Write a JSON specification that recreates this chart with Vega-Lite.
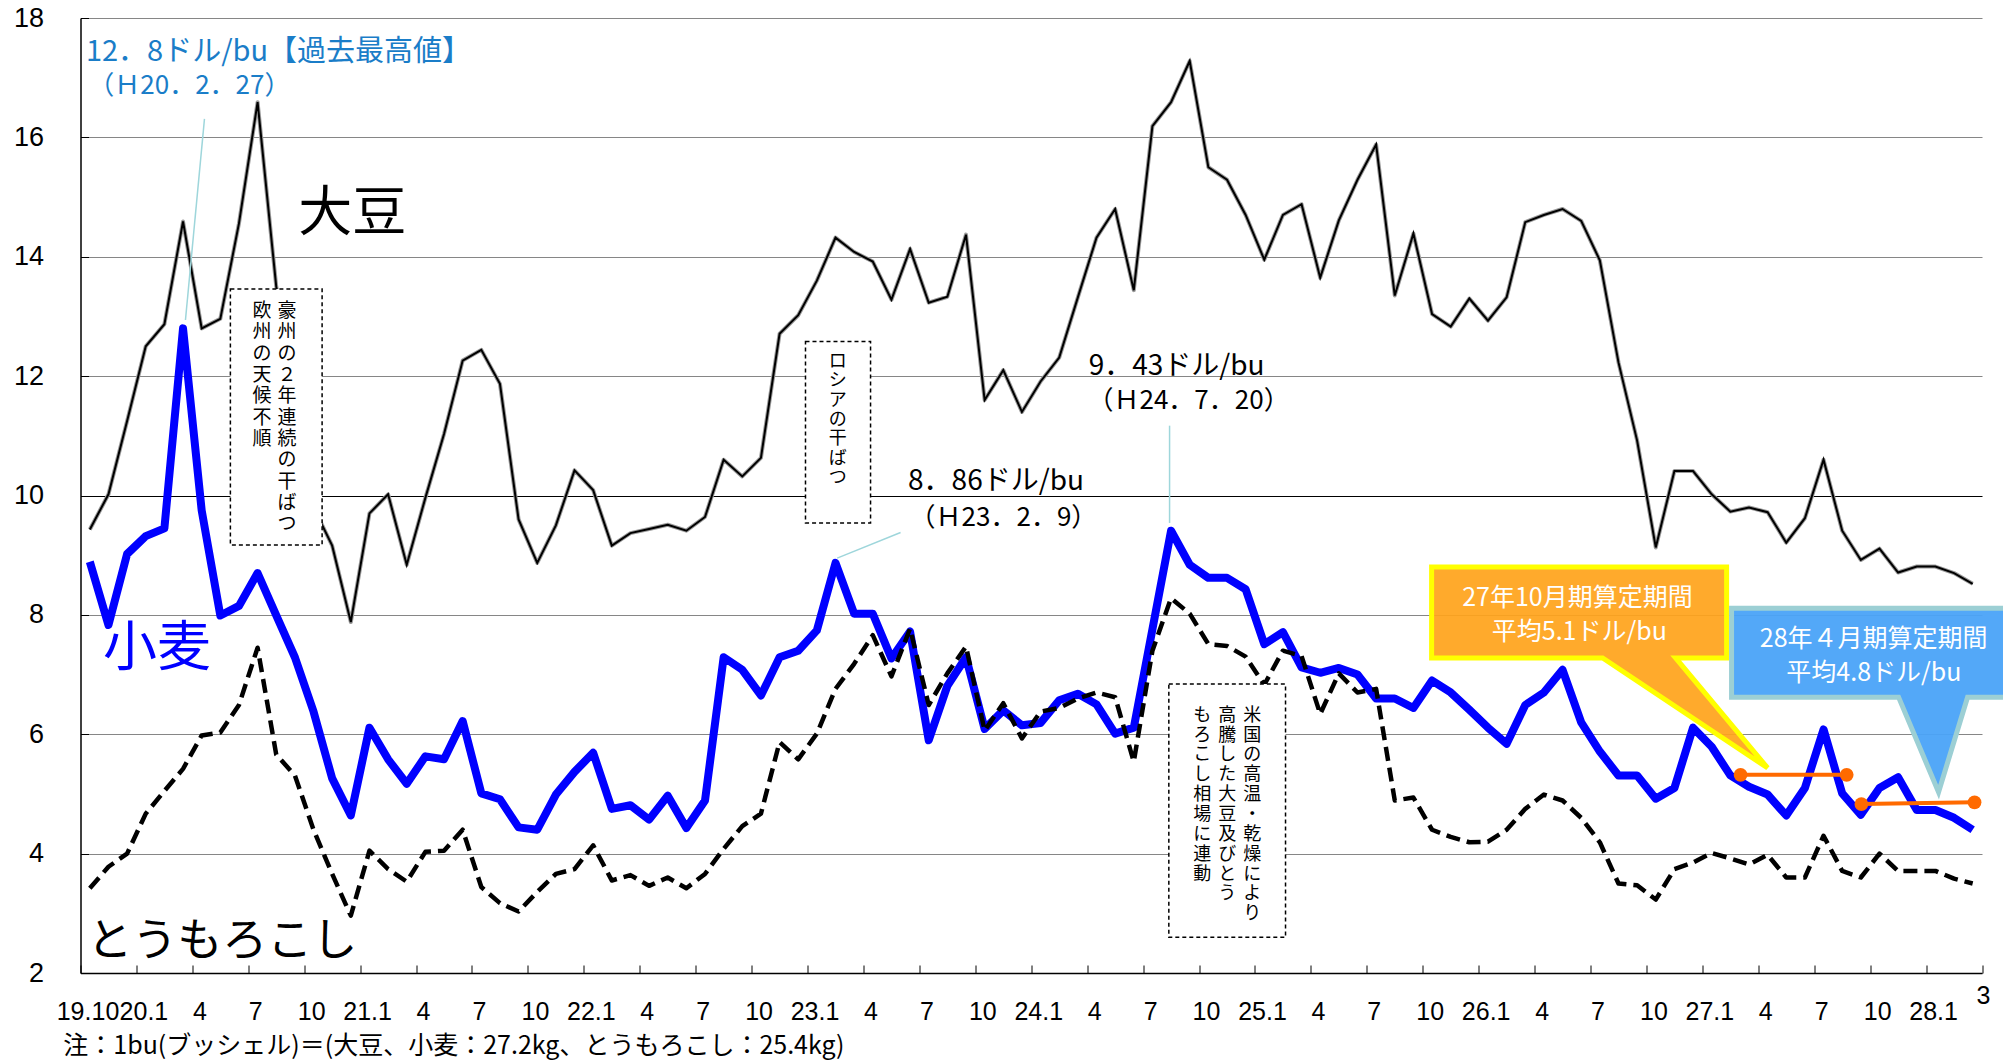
{
  "$schema": "https://vega.github.io/schema/vega-lite/v6.json",
  "width": 1901.5,
  "height": 955,
  "autosize": {"type": "none"},
  "padding": {"left": 80.5, "top": 18, "right": 21, "bottom": 87},
  "background": "white",
  "config": {"view": {"stroke": null}, "font": "Noto Sans CJK JP"},
  "datasets": {
    "prices": [
      {"m":0,"soy":9.43,"wheat":8.89,"corn":3.42},{"m":1,"soy":10.02,"wheat":7.83,"corn":3.78},{"m":2,"soy":11.25,"wheat":9.02,"corn":4.0},
      {"m":3,"soy":12.5,"wheat":9.32,"corn":4.67},{"m":4,"soy":12.87,"wheat":9.45,"corn":5.05},{"m":5,"soy":14.59,"wheat":12.8,"corn":5.42},
      {"m":6,"soy":12.8,"wheat":9.75,"corn":5.98},{"m":7,"soy":12.96,"wheat":7.99,"corn":6.03},{"m":8,"soy":14.56,"wheat":8.15,"corn":6.49},
      {"m":9,"soy":16.59,"wheat":8.7,"corn":7.45},{"m":10,"soy":13.5,"wheat":7.99,"corn":5.66},{"m":11,"soy":12.0,"wheat":7.29,"corn":5.31},
      {"m":12,"soy":9.8,"wheat":6.38,"corn":4.4},{"m":13,"soy":9.16,"wheat":5.26,"corn":3.66},{"m":14,"soy":7.88,"wheat":4.64,"corn":2.96},
      {"m":15,"soy":9.7,"wheat":6.11,"corn":4.05},{"m":16,"soy":10.02,"wheat":5.58,"corn":3.74},{"m":17,"soy":8.84,"wheat":5.17,"corn":3.53},
      {"m":18,"soy":9.96,"wheat":5.63,"corn":4.03},{"m":19,"soy":11.03,"wheat":5.58,"corn":4.05},{"m":20,"soy":12.26,"wheat":6.22,"corn":4.4},
      {"m":21,"soy":12.44,"wheat":5.01,"corn":3.44},{"m":22,"soy":11.87,"wheat":4.91,"corn":3.17},{"m":23,"soy":9.6,"wheat":4.44,"corn":3.03},
      {"m":24,"soy":8.87,"wheat":4.4,"corn":3.36},{"m":25,"soy":9.5,"wheat":4.99,"corn":3.66},{"m":26,"soy":10.42,"wheat":5.37,"corn":3.74},
      {"m":27,"soy":10.09,"wheat":5.69,"corn":4.14},{"m":28,"soy":9.16,"wheat":4.75,"corn":3.55},{"m":29,"soy":9.37,"wheat":4.81,"corn":3.64},
      {"m":30,"soy":9.44,"wheat":4.57,"corn":3.46},{"m":31,"soy":9.51,"wheat":4.97,"corn":3.6},{"m":32,"soy":9.41,"wheat":4.43,"corn":3.42},
      {"m":33,"soy":9.64,"wheat":4.89,"corn":3.66},{"m":34,"soy":10.6,"wheat":7.29,"corn":4.08},{"m":35,"soy":10.32,"wheat":7.08,"corn":4.46},
      {"m":36,"soy":10.63,"wheat":6.65,"corn":4.67},{"m":37,"soy":12.71,"wheat":7.29,"corn":5.87},{"m":38,"soy":13.02,"wheat":7.4,"corn":5.58},
      {"m":39,"soy":13.6,"wheat":7.74,"corn":6.01},{"m":40,"soy":14.32,"wheat":8.87,"corn":6.76},{"m":41,"soy":14.08,"wheat":8.02,"corn":7.18},
      {"m":42,"soy":13.92,"wheat":8.02,"corn":7.66},{"m":43,"soy":13.28,"wheat":7.27,"corn":6.97},{"m":44,"soy":14.13,"wheat":7.72,"corn":7.77},
      {"m":45,"soy":13.23,"wheat":5.9,"corn":6.49},{"m":46,"soy":13.33,"wheat":6.81,"corn":7.02},{"m":47,"soy":14.37,"wheat":7.29,"corn":7.47},
      {"m":48,"soy":11.6,"wheat":6.09,"corn":6.06},{"m":49,"soy":12.1,"wheat":6.4,"corn":6.52},{"m":50,"soy":11.4,"wheat":6.15,"corn":5.93},
      {"m":51,"soy":11.91,"wheat":6.19,"corn":6.38},{"m":52,"soy":12.31,"wheat":6.57,"corn":6.44},{"m":53,"soy":13.32,"wheat":6.68,"corn":6.6},
      {"m":54,"soy":14.32,"wheat":6.5,"corn":6.7},{"m":55,"soy":14.8,"wheat":6.01,"corn":6.62},{"m":56,"soy":13.44,"wheat":6.11,"corn":5.54},
      {"m":57,"soy":16.19,"wheat":7.76,"corn":7.4},{"m":58,"soy":16.59,"wheat":9.41,"corn":8.28},{"m":59,"soy":17.28,"wheat":8.84,"corn":8.02},
      {"m":60,"soy":15.5,"wheat":8.62,"corn":7.51},{"m":61,"soy":15.29,"wheat":8.62,"corn":7.48},{"m":62,"soy":14.7,"wheat":8.43,"corn":7.3},
      {"m":63,"soy":13.95,"wheat":7.51,"corn":6.83},{"m":64,"soy":14.7,"wheat":7.71,"corn":7.4},{"m":65,"soy":14.88,"wheat":7.12,"corn":7.31},
      {"m":66,"soy":13.65,"wheat":7.03,"corn":6.34},{"m":67,"soy":14.61,"wheat":7.11,"corn":7.02},{"m":68,"soy":15.29,"wheat":7.0,"corn":6.7},
      {"m":69,"soy":15.88,"wheat":6.6,"corn":6.76},{"m":70,"soy":13.35,"wheat":6.6,"corn":4.89},{"m":71,"soy":14.39,"wheat":6.44,"corn":4.94},
      {"m":72,"soy":13.04,"wheat":6.9,"corn":4.4},{"m":73,"soy":12.83,"wheat":6.7,"corn":4.28},{"m":74,"soy":13.3,"wheat":6.41,"corn":4.19},
      {"m":75,"soy":12.93,"wheat":6.11,"corn":4.2},{"m":76,"soy":13.32,"wheat":5.84,"corn":4.4},{"m":77,"soy":14.58,"wheat":6.49,"corn":4.75},
      {"m":78,"soy":14.7,"wheat":6.7,"corn":4.99},{"m":79,"soy":14.8,"wheat":7.08,"corn":4.89},{"m":80,"soy":14.6,"wheat":6.2,"corn":4.6},
      {"m":81,"soy":13.94,"wheat":5.71,"corn":4.19},{"m":82,"soy":12.23,"wheat":5.31,"corn":3.5},{"m":83,"soy":10.92,"wheat":5.31,"corn":3.47},
      {"m":84,"soy":9.13,"wheat":4.92,"corn":3.23},{"m":85,"soy":10.41,"wheat":5.1,"corn":3.74},{"m":86,"soy":10.41,"wheat":6.11,"corn":3.85},
      {"m":87,"soy":10.02,"wheat":5.79,"corn":4.01},{"m":88,"soy":9.73,"wheat":5.31,"corn":3.92},{"m":89,"soy":9.8,"wheat":5.12,"corn":3.82},
      {"m":90,"soy":9.72,"wheat":4.99,"corn":3.98},{"m":91,"soy":9.21,"wheat":4.64,"corn":3.6},{"m":92,"soy":9.62,"wheat":5.1,"corn":3.6},
      {"m":93,"soy":10.6,"wheat":6.08,"corn":4.3},{"m":94,"soy":9.41,"wheat":5.01,"corn":3.71},{"m":95,"soy":8.92,"wheat":4.65,"corn":3.6},
      {"m":96,"soy":9.11,"wheat":5.1,"corn":4.0},{"m":97,"soy":8.71,"wheat":5.28,"corn":3.71},{"m":98,"soy":8.81,"wheat":4.73,"corn":3.71},
      {"m":99,"soy":8.81,"wheat":4.73,"corn":3.71},{"m":100,"soy":8.7,"wheat":4.6,"corn":3.58},{"m":101,"soy":8.52,"wheat":4.4,"corn":3.5}
    ],
    "avg": [
      {"period":"27年10月期","m":88.55,"v":5.32},{"period":"27年10月期","m":94.24,"v":5.32},
      {"period":"28年4月期","m":95.03,"v":4.83},{"period":"28年4月期","m":101.1,"v":4.86}
    ]
  },
  "layer": [
    {
      "data": {"values": [{"c": "27年10月期"}]},
      "mark": {"type": "point", "shape": "M -336 -201 L -41 -201 L -41 -110 L -92 -110 L 0 0 L -165 -110 L -336 -110 Z", "size": 4, "filled": true, "fill": "#FFA41C", "fillOpacity": 0.93, "stroke": "#FFFF00", "strokeWidth": 5, "strokeOpacity": 1, "opacity": 1},
      "encoding": {
        "x": {"datum": 90.0, "type": "quantitative", "title": null, "scale": {"domain": [-0.5, 101.5], "nice": false, "zero": false}},
        "y": {"datum": 5.435, "type": "quantitative", "title": null, "scale": {"domain": [2, 18], "nice": false, "zero": false}}
      }
    },
    {
      "data": {"values": [{"c": "28年4月期"}]},
      "mark": {"type": "point", "shape": "M -207 -184 L 78 -184 L 78 -95 L 29 -95 L 0 0 L -40 -95 L -207 -95 Z", "size": 4, "filled": true, "fill": "#4AA3F8", "fillOpacity": 0.95, "stroke": "#9CCFD4", "strokeWidth": 5, "strokeOpacity": 1, "opacity": 1},
      "encoding": {
        "x": {"datum": 99.17, "type": "quantitative", "title": null},
        "y": {"datum": 5.03, "type": "quantitative", "title": null}
      }
    },
    {
      "data": {"name": "prices"},
      "mark": {"type": "line", "color": "#9a9a9a", "strokeWidth": 4, "strokeJoin": "round"},
      "encoding": {
        "x": {"field": "m", "type": "quantitative", "title": null,
          "scale": {"domain": [-0.5, 101.5], "nice": false, "zero": false},
          "axis": {
            "values": [-0.5, 2.5, 5.5, 8.5, 11.5, 14.5, 17.5, 20.5, 23.5, 26.5, 29.5, 32.5, 35.5, 38.5, 41.5, 44.5, 47.5, 50.5, 53.5, 56.5, 59.5, 62.5, 65.5, 68.5, 71.5, 74.5, 77.5, 80.5, 83.5, 86.5, 89.5, 92.5, 95.5, 98.5, 101.5],
            "labelExpr": "['19.10','20.1','4','7','10','21.1','4','7','10','22.1','4','7','10','23.1','4','7','10','24.1','4','7','10','25.1','4','7','10','26.1','4','7','10','27.1','4','7','10','28.1','3'][round((datum.value+0.5)/3)]",
            "labelFont": "Liberation Sans", "labelFontSize": 25, "labelColor": "#000",
            "labelOffset": {"condition": {"test": "datum.value > 101", "value": 1}, "value": 7},
            "labelPadding": {"condition": {"test": "datum.value > 101", "value": 18}, "value": 34},
            "tickSize": -8, "tickColor": "#000", "tickWidth": 1,
            "domainColor": "#000", "domainWidth": 1.5, "grid": false,
            "labelOverlap": false, "labelFlush": false, "labelBound": false
          }
        },
        "y": {"field": "soy", "type": "quantitative", "title": null,
          "scale": {"domain": [2, 18], "nice": false, "zero": false},
          "axis": {
            "values": [2, 4, 6, 8, 10, 12, 14, 16, 18], "format": "d",
            "labelFont": "Liberation Sans", "labelFontSize": 27, "labelColor": "#000",
            "labelPadding": 45, "tickSize": -8, "tickColor": "#000",
            "gridColor": {"condition": {"test": "datum.value == 10", "value": "#000000"}, "value": "#868686"},
            "gridWidth": 1, "grid": true,
            "domainColor": "#000", "domainWidth": 1.5,
            "labelOverlap": false, "labelFlush": false, "labelBound": false
          }
        }
      }
    },
    {
      "data": {"name": "prices"},
      "mark": {"type": "line", "color": "#000000", "strokeWidth": 2, "strokeJoin": "miter"},
      "encoding": {
        "x": {"field": "m", "type": "quantitative", "title": null},
        "y": {"field": "soy", "type": "quantitative", "title": null}
      }
    },
    {
      "data": {"name": "prices"},
      "mark": {"type": "line", "color": "#0000FF", "strokeWidth": 8, "strokeJoin": "round"},
      "encoding": {
        "x": {"field": "m", "type": "quantitative", "title": null},
        "y": {"field": "wheat", "type": "quantitative", "title": null}
      }
    },
    {
      "data": {"name": "prices"},
      "mark": {"type": "line", "color": "#000000", "strokeWidth": 4.5, "strokeDash": [14, 7], "strokeJoin": "round"},
      "encoding": {
        "x": {"field": "m", "type": "quantitative", "title": null},
        "y": {"field": "corn", "type": "quantitative", "title": null}
      }
    },
    {
      "data": {"name": "avg"},
      "mark": {"type": "line", "color": "#FF6A00", "strokeWidth": 4, "point": {"filled": true, "size": 190, "color": "#FF6A00"}},
      "encoding": {
        "x": {"field": "m", "type": "quantitative", "title": null},
        "y": {"field": "v", "type": "quantitative", "title": null},
        "detail": {"field": "period", "type": "nominal"}
      }
    },
    {
      "data": {"values": [{"k": "12.8"}]},
      "mark": {"type": "rule", "color": "#9ED6DB", "strokeWidth": 1.5},
      "encoding": {"x": {"datum": 6.15}, "y": {"datum": 16.31}, "x2": {"datum": 5.13}, "y2": {"datum": 12.94}}
    },
    {
      "data": {"values": [{"k": "8.86"}]},
      "mark": {"type": "rule", "color": "#9ED6DB", "strokeWidth": 1.5},
      "encoding": {"x": {"datum": 43.49}, "y": {"datum": 9.38}, "x2": {"datum": 40.09}, "y2": {"datum": 8.95}}
    },
    {
      "data": {"values": [{"k": "9.43"}]},
      "mark": {"type": "rule", "color": "#9ED6DB", "strokeWidth": 1.5},
      "encoding": {"x": {"datum": 57.92}, "y": {"datum": 11.17}, "x2": {"datum": 57.92}, "y2": {"datum": 9.54}}
    },
    {
      "data": {"values": [{"k": "豪州"}]},
      "mark": {"type": "rect", "fill": "white", "stroke": "#000", "strokeWidth": 1.5, "strokeDash": [4, 3]},
      "encoding": {"x": {"datum": 7.54}, "x2": {"datum": 12.46}, "y": {"datum": 13.46}, "y2": {"datum": 9.17}}
    },
    {
      "data": {"values": [{"k": "ロシア"}]},
      "mark": {"type": "rect", "fill": "white", "stroke": "#000", "strokeWidth": 1.5, "strokeDash": [4, 3]},
      "encoding": {"x": {"datum": 38.39}, "x2": {"datum": 41.88}, "y": {"datum": 12.58}, "y2": {"datum": 9.54}}
    },
    {
      "data": {"values": [{"k": "米国"}]},
      "mark": {"type": "rect", "fill": "white", "stroke": "#000", "strokeWidth": 1.5, "strokeDash": [4, 3]},
      "encoding": {"x": {"datum": 57.88}, "x2": {"datum": 64.14}, "y": {"datum": 6.84}, "y2": {"datum": 2.6}}
    },
    {
      "data": {"values": [{"k": "a"}]},
      "mark": {"type": "text", "text": ["豪", "州", "の", "２", "年", "連", "続", "の", "干", "ば", "つ"], "fontSize": 19, "lineHeight": 21.3, "align": "center", "baseline": "top", "color": "#000"},
      "encoding": {"x": {"datum": 10.58}, "y": {"datum": 13.24}}
    },
    {
      "data": {"values": [{"k": "b"}]},
      "mark": {"type": "text", "text": ["欧", "州", "の", "天", "候", "不", "順"], "fontSize": 19, "lineHeight": 21.3, "align": "center", "baseline": "top", "color": "#000"},
      "encoding": {"x": {"datum": 9.24}, "y": {"datum": 13.24}}
    },
    {
      "data": {"values": [{"k": "c"}]},
      "mark": {"type": "text", "text": ["ロ", "シ", "ア", "の", "干", "ば", "つ"], "fontSize": 18, "lineHeight": 19.4, "align": "center", "baseline": "top", "color": "#000"},
      "encoding": {"x": {"datum": 40.12}, "y": {"datum": 12.39}}
    },
    {
      "data": {"values": [{"k": "d"}]},
      "mark": {"type": "text", "text": ["米", "国", "の", "高", "温", "・", "乾", "燥", "に", "よ", "り"], "fontSize": 18, "lineHeight": 19.85, "align": "center", "baseline": "top", "color": "#000"},
      "encoding": {"x": {"datum": 62.36}, "y": {"datum": 6.46}}
    },
    {
      "data": {"values": [{"k": "e"}]},
      "mark": {"type": "text", "text": ["高", "騰", "し", "た", "大", "豆", "及", "び", "と", "う"], "fontSize": 18, "lineHeight": 19.85, "align": "center", "baseline": "top", "color": "#000"},
      "encoding": {"x": {"datum": 61.02}, "y": {"datum": 6.46}}
    },
    {
      "data": {"values": [{"k": "f"}]},
      "mark": {"type": "text", "text": ["も", "ろ", "こ", "し", "相", "場", "に", "連", "動"], "fontSize": 18, "lineHeight": 19.85, "align": "center", "baseline": "top", "color": "#000"},
      "encoding": {"x": {"datum": 59.67}, "y": {"datum": 6.46}}
    },
    {
      "data": {"values": [{"t": "大豆"}]},
      "mark": {"type": "text", "align": "center", "baseline": "middle", "fontSize": 54, "color": "#000000"},
      "encoding": {"x": {"datum": 14.08}, "y": {"datum": 14.7}, "text": {"field": "t"}}
    },
    {
      "data": {"values": [{"t": "小麦"}]},
      "mark": {"type": "text", "align": "center", "baseline": "middle", "fontSize": 54, "color": "#0000FF"},
      "encoding": {"x": {"datum": 3.61}, "y": {"datum": 7.41}, "text": {"field": "t"}}
    },
    {
      "data": {"values": [{"t": "とうもろこし"}]},
      "mark": {"type": "text", "align": "center", "baseline": "middle", "fontSize": 45, "color": "#000000"},
      "encoding": {"x": {"datum": 7.1}, "y": {"datum": 2.52}, "text": {"field": "t"}}
    },
    {
      "data": {"values": [{"t": "12．8ドル/bu【過去最高値】"}]},
      "mark": {"type": "text", "align": "center", "baseline": "middle", "fontSize": 29, "color": "#1A7DC8"},
      "encoding": {"x": {"datum": 10.12}, "y": {"datum": 17.43}, "text": {"field": "t"}}
    },
    {
      "data": {"values": [{"t": "（Ｈ20．2．27）"}]},
      "mark": {"type": "text", "align": "center", "baseline": "middle", "fontSize": 26, "color": "#1A7DC8"},
      "encoding": {"x": {"datum": 5.34}, "y": {"datum": 16.86}, "text": {"field": "t"}}
    },
    {
      "data": {"values": [{"t": "8．86ドル/bu", "x": 48.61, "y": 10.22}, {"t": "9．43ドル/bu", "x": 58.3, "y": 12.16}]},
      "mark": {"type": "text", "align": "center", "baseline": "middle", "fontSize": 28, "color": "#000000"},
      "encoding": {
        "x": {"field": "x", "type": "quantitative", "title": null},
        "y": {"field": "y", "type": "quantitative", "title": null},
        "text": {"field": "t"}
      }
    },
    {
      "data": {"values": [{"t": "（Ｈ23．2．9）", "x": 49.01, "y": 9.62}, {"t": "（Ｈ24．7．20）", "x": 58.94, "y": 11.59}]},
      "mark": {"type": "text", "align": "center", "baseline": "middle", "fontSize": 26, "color": "#000000"},
      "encoding": {
        "x": {"field": "x", "type": "quantitative", "title": null},
        "y": {"field": "y", "type": "quantitative", "title": null},
        "text": {"field": "t"}
      }
    },
    {
      "data": {"values": [
        {"t": "27年10月期算定期間", "x": 79.8, "y": 8.28},
        {"t": "平均5.1ドル/bu", "x": 79.9, "y": 7.71},
        {"t": "28年４月期算定期間", "x": 95.69, "y": 7.59},
        {"t": "平均4.8ドル/bu", "x": 95.7, "y": 7.03}
      ]},
      "mark": {"type": "text", "align": "center", "baseline": "middle", "color": "#FFFFFF", "fontSize": 25},
      "encoding": {
        "x": {"field": "x", "type": "quantitative", "title": null},
        "y": {"field": "y", "type": "quantitative", "title": null},
        "text": {"field": "t"}
      }
    },
    {
      "data": {"values": [{"t": "注：1bu(ブッシェル)＝(大豆、小麦：27.2kg、とうもろこし：25.4kg)"}]},
      "mark": {"type": "text", "align": "left", "baseline": "middle", "color": "#000", "fontSize": 25},
      "encoding": {
        "x": {"datum": -1.42}, "y": {"datum": 0.77},
        "text": {"field": "t"}
      }
    }
  ]
}
